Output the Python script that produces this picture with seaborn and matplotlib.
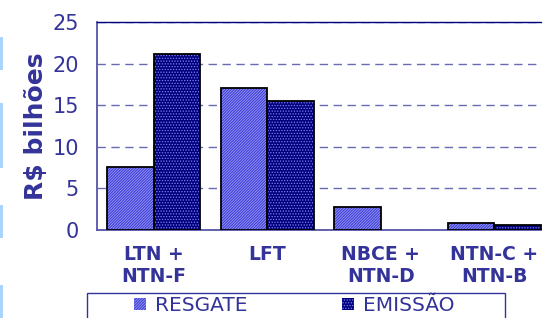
import matplotlib
matplotlib.use("Agg")
import matplotlib.pyplot as plt
from matplotlib.patches import Rectangle, Patch
import numpy as np
import pandas as pd
import seaborn as sns

# values (R$ billions)
categorias = ["LTN +\nNTN-F", "LFT", "NBCE +\nNTN-D", "NTN-C +\nNTN-B"]
resgate = [7.6, 17.1, 2.8, 0.9]
emissao = [21.2, 15.5, 0.0, 0.6]
series = ["RESGATE", "EMISSÃO"]

TXT = "#333399"
AXC = "#5555aa"
FILL = {"RESGATE": "#4040d4", "EMISSÃO": "#00007e"}
HATCH = {"RESGATE": ("/" * 12, "#9898f8"), "EMISSÃO": ("." * 6, "#8080f0")}

sns.set_style("white")
plt.rcParams["font.family"] = ["DejaVu Sans"]
plt.rcParams["hatch.linewidth"] = 0.6

df = pd.DataFrame({
    "titulo": categorias * 2,
    "valor": resgate + emissao,
    "tipo": [series[0]] * len(categorias) + [series[1]] * len(categorias),
})

fig = plt.figure(figsize=(5.42, 3.18), dpi=100)
ax = fig.add_axes([97 / 542, 88 / 318, 454 / 542, 208 / 318])

sns.barplot(data=df, x="titulo", y="valor", hue="tipo", hue_order=series,
            palette=[FILL[s] for s in series], saturation=1, width=0.82, gap=0,
            linewidth=0, legend=False, ax=ax, zorder=3)

n = len(categorias)
for i, p in enumerate(ax.patches[:2 * n]):
    s = series[i // n]
    p.set_hatch(HATCH[s][0])
    p.set_edgecolor(HATCH[s][1])
    p.set_linewidth(0)
    if p.get_height() > 0:
        ax.add_patch(Rectangle(p.get_xy(), p.get_width(), p.get_height(),
                               fill=False, edgecolor="black", lw=1.3, zorder=4))

ax.set_xlim(-0.5, n - 0.5)
ax.set_ylim(0, 25)
ax.set_yticks(np.arange(0, 26, 5))
ax.yaxis.grid(True, color="#6a6ab4", lw=1.0, ls=(0, (6, 4)), zorder=0)
ax.set_axisbelow(True)

ax.set_xticks(np.arange(-0.5, n, 1.0))
ax.set_xticklabels([])
ax.set_xticks(np.arange(n), minor=True)
ax.set_xticklabels(categorias, minor=True, fontsize=13.5, fontweight="bold",
                   color=TXT, linespacing=1.15)
ax.tick_params(axis="x", which="major", length=5, width=1, color=AXC, direction="out")
ax.tick_params(axis="x", which="minor", length=0, pad=11)
ax.tick_params(axis="y", length=5, width=1, color=AXC, direction="out",
               labelsize=15, labelcolor=TXT, pad=8)
ax.set_xlabel("")
ax.set_ylabel("R$ bilhões", fontsize=18, fontweight="bold", color=TXT, labelpad=3)

for side in ["left", "bottom"]:
    ax.spines[side].set_color(AXC)
    ax.spines[side].set_linewidth(1.3)
ax.spines["top"].set_color("#00007e")
ax.spines["top"].set_linewidth(1.0)
ax.spines["right"].set_visible(False)

handles = [Patch(facecolor=FILL[s], edgecolor=HATCH[s][1], hatch=HATCH[s][0]) for s in series]
leg = fig.legend(handles, series, loc="upper left", bbox_to_anchor=(134 / 542, 1 - 296 / 318),
                 ncol=2, frameon=False, fontsize=14.5, handlelength=0.6, handleheight=0.6,
                 handletextpad=0.45, columnspacing=4.7, borderaxespad=0, borderpad=0)
for t in leg.get_texts():
    t.set_color(TXT)
for h in leg.legend_handles:
    h.set_linewidth(0)

# legend box and the slide's light strips on the left edge
fig.patches.append(Rectangle((87 / 542, -0.05), 418 / 542, 0.05 + 25 / 318,
                             transform=fig.transFigure, fill=False, edgecolor=TXT, lw=1))
for y0, y1 in [(37, 70), (103, 168), (205, 238), (285, 318)]:
    fig.patches.append(Rectangle((0, 1 - y1 / 318), 3 / 542, (y1 - y0) / 318,
                                 transform=fig.transFigure, color="#a8d4ff", lw=0))

fig.savefig("out.png", dpi=100)
